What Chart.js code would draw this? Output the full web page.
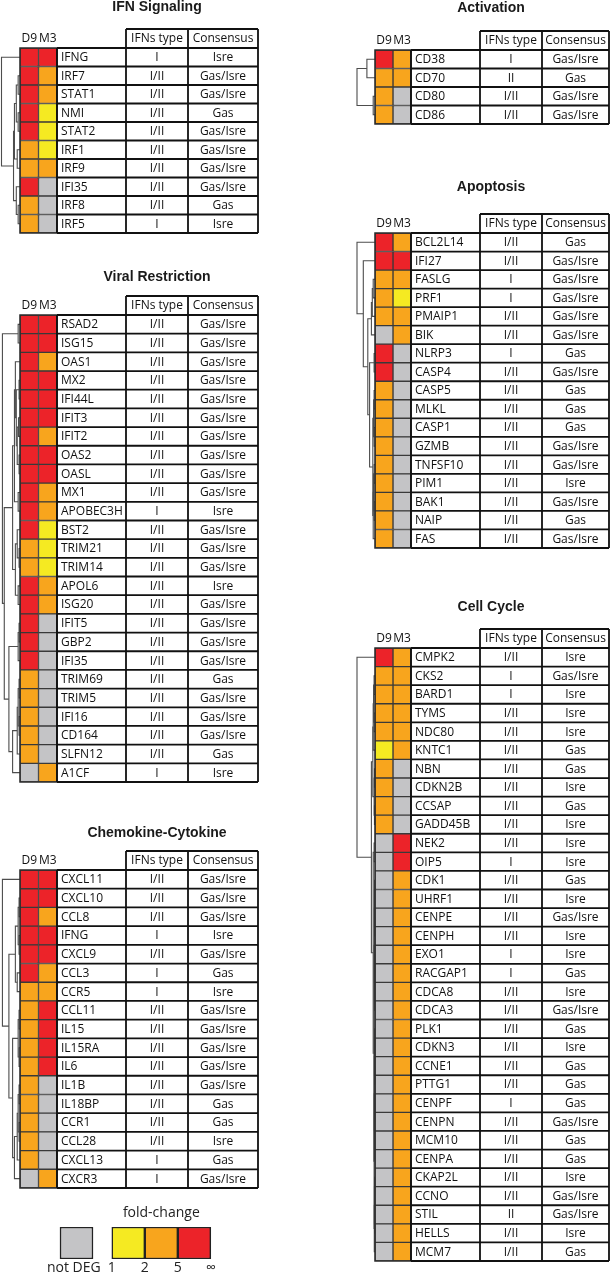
<!DOCTYPE html>
<html>
<head>
<meta charset="utf-8">
<script src="https://cdn.jsdelivr.net/npm/chart.js@4.4.1/dist/chart.umd.min.js"></script>
<style>
  html, body { margin: 0; padding: 0; background: #fff; }
  #page { position: relative; width: 612px; height: 1274px; overflow: hidden; }
  #page canvas { position: absolute; }
</style>
</head>
<body>
<div id="page"></div>
<script>
// fold-change level per cell: 0 = not DEG, 1 = 1-2, 2 = 2-5, 3 = >5
const levelColors = ['#C4C4C6', '#F5EA22', '#F8A51D', '#EC2329'];
const sampleCols = ['D9', 'M3'];
const tableHeads = ['IFNs type', 'Consensus'];

// IFN Signaling
const ifnGenes = ['IFNG', 'IRF7', 'STAT1', 'NMI', 'STAT2', 'IRF1', 'IRF9', 'IFI35', 'IRF8', 'IRF5'];
const ifnD9 = [3, 3, 3, 3, 3, 2, 2, 3, 2, 2];
const ifnM3 = [3, 2, 2, 1, 1, 1, 2, 0, 0, 0];
const ifnType = ['I', 'I/II', 'I/II', 'I/II', 'I/II', 'I/II', 'I/II', 'I/II', 'I/II', 'I'];
const ifnCons = ['Isre', 'Gas/Isre', 'Gas/Isre', 'Gas', 'Gas/Isre', 'Gas/Isre', 'Gas/Isre', 'Gas/Isre', 'Gas', 'Isre'];
// merges: [nodeA, nodeB, height]; new node ids continue after the leaves
const ifnTree = [[1, 2, 0.1], [3, 4, 0.1], [10, 11, 0.2], [5, 6, 0.15], [12, 13, 0.3], [8, 9, 0.1], [7, 15, 0.2], [14, 16, 0.35], [0, 17, 1.0]];

// Viral Restriction
const virGenes = ['RSAD2', 'ISG15', 'OAS1', 'MX2', 'IFI44L', 'IFIT3', 'IFIT2', 'OAS2', 'OASL', 'MX1', 'APOBEC3H', 'BST2', 'TRIM21',
  'TRIM14', 'APOL6', 'ISG20', 'IFIT5', 'GBP2', 'IFI35', 'TRIM69', 'TRIM5', 'IFI16', 'CD164', 'SLFN12', 'A1CF'];
const virD9 = [3, 3, 3, 3, 3, 3, 3, 3, 3, 3, 3, 3, 2, 2, 3, 3, 3, 3, 3, 2, 2, 2, 2, 2, 0];
const virM3 = [3, 3, 2, 3, 3, 3, 2, 3, 3, 2, 2, 1, 1, 1, 2, 2, 0, 0, 0, 0, 0, 0, 0, 0, 2];
const virType = ['I/II', 'I/II', 'I/II', 'I/II', 'I/II', 'I/II', 'I/II', 'I/II', 'I/II', 'I/II', 'I', 'I/II', 'I/II',
  'I/II', 'I/II', 'I/II', 'I/II', 'I/II', 'I/II', 'I/II', 'I/II', 'I/II', 'I/II', 'I/II', 'I'];
const virCons = ['Gas/Isre', 'Gas/Isre', 'Gas/Isre', 'Gas/Isre', 'Gas/Isre', 'Gas/Isre', 'Gas/Isre', 'Gas/Isre', 'Gas/Isre', 'Gas/Isre',
  'Isre', 'Gas/Isre', 'Gas/Isre', 'Gas/Isre', 'Isre', 'Gas/Isre', 'Gas/Isre', 'Gas/Isre', 'Gas/Isre', 'Gas', 'Gas/Isre',
  'Gas/Isre', 'Gas/Isre', 'Gas', 'Isre'];
const virTree = [[0, 1, 0.1], [3, 4, 0.05], [5, 6, 0.08], [7, 8, 0.05], [27, 28, 0.15], [26, 29, 0.2], [2, 30, 0.25],
  [9, 10, 0.1], [31, 32, 0.3], [12, 13, 0.05], [11, 34, 0.15], [14, 15, 0.1], [35, 36, 0.25], [33, 37, 0.4],
  [16, 17, 0.05], [39, 18, 0.1], [19, 20, 0.05], [21, 22, 0.05], [41, 42, 0.1], [43, 23, 0.15], [44, 24, 0.4],
  [40, 45, 0.6], [38, 46, 0.85], [25, 47, 0.95]];

// Chemokine-Cytokine
const chemGenes = ['CXCL11', 'CXCL10', 'CCL8', 'IFNG', 'CXCL9', 'CCL3', 'CCR5', 'CCL11', 'IL15', 'IL15RA', 'IL6', 'IL1B',
  'IL18BP', 'CCR1', 'CCL28', 'CXCL13', 'CXCR3'];
const chemD9 = [3, 3, 3, 3, 3, 3, 2, 2, 2, 2, 2, 2, 2, 2, 2, 2, 0];
const chemM3 = [3, 3, 2, 3, 3, 2, 2, 3, 3, 3, 3, 0, 0, 0, 0, 0, 2];
const chemType = ['I/II', 'I/II', 'I/II', 'I', 'I/II', 'I', 'I', 'I/II', 'I/II', 'I/II', 'I/II', 'I/II', 'I/II', 'I/II', 'I/II', 'I', 'I'];
const chemCons = ['Gas/Isre', 'Gas/Isre', 'Gas/Isre', 'Isre', 'Gas/Isre', 'Gas', 'Isre', 'Gas/Isre', 'Gas/Isre', 'Gas/Isre',
  'Gas/Isre', 'Gas/Isre', 'Gas', 'Gas', 'Isre', 'Gas', 'Gas/Isre'];
const chemTree = [[1, 2, 0.05], [3, 4, 0.05], [17, 18, 0.1], [5, 6, 0.15], [19, 20, 0.25], [7, 8, 0.05], [9, 10, 0.05],
  [22, 23, 0.1], [11, 12, 0.05], [13, 14, 0.05], [25, 26, 0.1], [27, 15, 0.15], [28, 16, 0.3], [24, 29, 0.4],
  [21, 30, 0.6], [0, 31, 0.95]];

// Activation
const actGenes = ['CD38', 'CD70', 'CD80', 'CD86'];
const actD9 = [3, 2, 2, 2];
const actM3 = [2, 2, 0, 0];
const actType = ['I', 'II', 'I/II', 'I/II'];
const actCons = ['Gas/Isre', 'Gas', 'Gas/Isre', 'Gas/Isre'];
const actTree = [[0, 1, 0.45], [2, 3, 0.1], [4, 5, 1.0]];

// Apoptosis
const apoGenes = ['BCL2L14', 'IFI27', 'FASLG', 'PRF1', 'PMAIP1', 'BIK', 'NLRP3', 'CASP4', 'CASP5', 'MLKL', 'CASP1', 'GZMB',
  'TNFSF10', 'PIM1', 'BAK1', 'NAIP', 'FAS'];
const apoD9 = [3, 3, 2, 2, 2, 0, 3, 3, 2, 2, 2, 2, 2, 2, 2, 2, 2];
const apoM3 = [2, 3, 2, 1, 2, 2, 0, 0, 0, 0, 0, 0, 0, 0, 0, 0, 0];
const apoType = ['I/II', 'I/II', 'I', 'I', 'I/II', 'I/II', 'I', 'I/II', 'I/II', 'I/II', 'I/II', 'I/II', 'I/II', 'I/II', 'I/II', 'I/II', 'I/II'];
const apoCons = ['Gas', 'Gas/Isre', 'Gas/Isre', 'Gas/Isre', 'Gas/Isre', 'Gas/Isre', 'Gas', 'Gas/Isre', 'Gas', 'Gas', 'Gas',
  'Gas/Isre', 'Gas/Isre', 'Isre', 'Gas/Isre', 'Gas', 'Gas/Isre'];
const apoTree = [[2, 3, 0.1], [17, 4, 0.15], [18, 5, 0.2], [6, 7, 0.05], [8, 9, 0.05], [10, 11, 0.05], [21, 22, 0.08],
  [12, 13, 0.05], [14, 15, 0.05], [24, 25, 0.08], [26, 16, 0.1], [23, 27, 0.12], [20, 28, 0.3], [19, 29, 0.4],
  [1, 30, 0.65], [0, 31, 1.0]];

// Cell Cycle
const ccGenes = ['CMPK2', 'CKS2', 'BARD1', 'TYMS', 'NDC80', 'KNTC1', 'NBN', 'CDKN2B', 'CCSAP', 'GADD45B', 'NEK2', 'OIP5',
  'CDK1', 'UHRF1', 'CENPE', 'CENPH', 'EXO1', 'RACGAP1', 'CDCA8', 'CDCA3', 'PLK1', 'CDKN3', 'CCNE1', 'PTTG1', 'CENPF',
  'CENPN', 'MCM10', 'CENPA', 'CKAP2L', 'CCNO', 'STIL', 'HELLS', 'MCM7'];
const ccD9 = [3, 2, 2, 2, 2, 1, 2, 2, 2, 2, 0, 0, 0, 0, 0, 0, 0, 0, 0, 0, 0, 0, 0, 0, 0, 0, 0, 0, 0, 0, 0, 0, 0];
const ccM3 = [2, 2, 2, 2, 2, 2, 0, 0, 0, 0, 3, 3, 2, 2, 2, 2, 2, 2, 2, 2, 2, 2, 2, 2, 2, 2, 2, 2, 2, 2, 2, 2, 2];
const ccType = ['I/II', 'I', 'I', 'I/II', 'I/II', 'I/II', 'I/II', 'I/II', 'I/II', 'I/II', 'I/II', 'I', 'I/II', 'I/II',
  'I/II', 'I/II', 'I', 'I', 'I/II', 'I/II', 'I/II', 'I/II', 'I/II', 'I/II', 'I', 'I/II', 'I/II', 'I/II', 'I/II',
  'I/II', 'II', 'I/II', 'I/II'];
const ccCons = ['Isre', 'Gas/Isre', 'Isre', 'Isre', 'Isre', 'Gas', 'Gas', 'Isre', 'Gas', 'Isre', 'Isre', 'Isre', 'Gas',
  'Isre', 'Gas/Isre', 'Isre', 'Isre', 'Gas', 'Isre', 'Gas/Isre', 'Gas', 'Isre', 'Gas', 'Gas', 'Gas', 'Gas/Isre', 'Gas',
  'Gas', 'Isre', 'Gas/Isre', 'Gas/Isre', 'Isre', 'Gas'];
const ccTree = [[1, 2, 0.05], [3, 4, 0.05], [33, 34, 0.08], [35, 5, 0.1], [6, 7, 0.03], [8, 9, 0.03], [37, 38, 0.05],
  [36, 39, 0.12], [10, 11, 0.05], [12, 13, 0.02], [14, 15, 0.02], [42, 43, 0.03], [16, 17, 0.02], [18, 19, 0.02],
  [45, 46, 0.03], [44, 47, 0.04], [20, 21, 0.02], [22, 23, 0.02], [49, 50, 0.03], [24, 25, 0.02], [26, 27, 0.02],
  [52, 53, 0.03], [51, 54, 0.04], [28, 29, 0.02], [30, 31, 0.02], [56, 57, 0.03], [58, 32, 0.04], [55, 59, 0.05],
  [48, 60, 0.06], [41, 61, 0.1], [40, 62, 0.2], [0, 63, 1.0]];

// legend
const legendColors = ['#C4C4C6', '#F5EA22', '#F8A51D', '#EC2329'];
const legendRanges = [[0, 1], [1.57, 2.57], [2.57, 3.57], [3.57, 4.57]];
const legendTickPos = [0.42, 1.57, 2.57, 3.57, 4.57];
const legendTickLabels = ['not DEG', '1', '2', '5', '\u221E'];

// page layout (pixels)
const colLayout = [
  { left: 0, width: 300, heatLeft: 20, heatRight: 57, titleX: 157, colW: [69, 62, 70] },
  { left: 300, width: 312, heatLeft: 375, heatRight: 411, titleX: 491, colW: [69, 62, 67] }
];
const panels = [
  { title: 'IFN Signaling', genes: ifnGenes, d9: ifnD9, m3: ifnM3, type: ifnType, cons: ifnCons, tree: ifnTree, col: 0, heatTop: 48, heatBottom: 233, titleY: 7 },
  { title: 'Viral Restriction', genes: virGenes, d9: virD9, m3: virM3, type: virType, cons: virCons, tree: virTree, col: 0, heatTop: 315, heatBottom: 782, titleY: 277 },
  { title: 'Chemokine-Cytokine', genes: chemGenes, d9: chemD9, m3: chemM3, type: chemType, cons: chemCons, tree: chemTree, col: 0, heatTop: 870, heatBottom: 1188, titleY: 833 },
  { title: 'Activation', genes: actGenes, d9: actD9, m3: actM3, type: actType, cons: actCons, tree: actTree, col: 1, heatTop: 50, heatBottom: 124, titleY: 8 },
  { title: 'Apoptosis', genes: apoGenes, d9: apoD9, m3: apoM3, type: apoType, cons: apoCons, tree: apoTree, col: 1, heatTop: 233, heatBottom: 548, titleY: 187 },
  { title: 'Cell Cycle', genes: ccGenes, d9: ccD9, m3: ccM3, type: ccType, cons: ccCons, tree: ccTree, col: 1, heatTop: 648, heatBottom: 1261, titleY: 607 }
];

const DENDRO = 1.08; // dendrogram room, in heat-cell units
const textFont = '12px "Open Sans", "Noto Sans", sans-serif';
const page = document.getElementById('page');

Chart.defaults.font.family = '"Open Sans", "Noto Sans", sans-serif';

// draws dendrogram, header, gene table and title around the heatmap
const geneTable = {
  id: 'geneTable',
  afterDatasetsDraw(chart, args, opts) {
    const p = opts.panel, c = colLayout[p.col];
    const ctx = chart.ctx, xs = chart.scales.x, ys = chart.scales.y, area = chart.chartArea;
    const n = p.genes.length;
    const top = area.top, bottom = area.bottom, pitch = (bottom - top) / n;
    const heatL = xs.getPixelForValue(0), x0 = xs.getPixelForValue(2);
    const x1 = x0 + c.colW[0], x2 = x1 + c.colW[1], x3 = x2 + c.colW[2];
    const headTop = top - 19;
    ctx.save();

    // dendrogram
    const nodeY = [], nodeH = [];
    for (let i = 0; i < n; i++) { nodeY.push(ys.getPixelForValue(i)); nodeH.push(0); }
    ctx.strokeStyle = '#4d4d4d';
    ctx.lineWidth = 1.1;
    p.tree.forEach(([a, b, h]) => {
      const xa = xs.getPixelForValue(-nodeH[a]), xb = xs.getPixelForValue(-nodeH[b]);
      const xn = xs.getPixelForValue(-h);
      ctx.beginPath();
      ctx.moveTo(xa, nodeY[a]);
      ctx.lineTo(xn, nodeY[a]);
      ctx.lineTo(xn, nodeY[b]);
      ctx.lineTo(xb, nodeY[b]);
      ctx.stroke();
      nodeY.push((nodeY[a] + nodeY[b]) / 2);
      nodeH.push(h);
    });

    // heatmap outline
    ctx.strokeStyle = '#2b2b2b';
    ctx.lineWidth = 1.5;
    ctx.strokeRect(heatL, top, x0 - heatL, bottom - top);

    // table grid
    ctx.strokeStyle = '#111';
    ctx.lineWidth = 1.8;
    ctx.beginPath();
    for (let i = 0; i <= n; i++) {
      const y = top + i * pitch;
      ctx.moveTo(x0, y); ctx.lineTo(x3, y);
    }
    ctx.moveTo(x1, headTop); ctx.lineTo(x3, headTop);
    ctx.moveTo(x0, top); ctx.lineTo(x0, bottom);
    [x1, x2, x3].forEach(x => { ctx.moveTo(x, headTop); ctx.lineTo(x, bottom); });
    ctx.stroke();

    // texts
    ctx.fillStyle = '#111';
    ctx.font = textFont;
    ctx.textBaseline = 'middle';
    ctx.textAlign = 'center';
    sampleCols.forEach((s, k) => ctx.fillText(s, xs.getPixelForValue(k + 0.5), top - 9));
    ctx.fillText(tableHeads[0], (x1 + x2) / 2, (headTop + top) / 2);
    ctx.fillText(tableHeads[1], (x2 + x3) / 2, (headTop + top) / 2);
    p.genes.forEach((g, i) => {
      const y = ys.getPixelForValue(i) + 0.5;
      ctx.textAlign = 'left';
      ctx.fillText(g, x0 + 4, y);
      ctx.textAlign = 'center';
      ctx.fillText(p.type[i], (x1 + x2) / 2, y);
      ctx.fillText(p.cons[i], (x2 + x3) / 2, y);
    });

    // title
    ctx.font = 'bold 14px "Liberation Sans", Arial, sans-serif';
    ctx.fillStyle = '#1a1a1a';
    ctx.fillText(p.title, c.titleX - c.left, p.titleY - opts.canvasTop);
    ctx.restore();
  }
};

function makeCanvas(left, top, width, height) {
  const cv = document.createElement('canvas');
  cv.width = width; cv.height = height;
  cv.style.left = left + 'px'; cv.style.top = top + 'px';
  cv.style.width = width + 'px'; cv.style.height = height + 'px';
  page.appendChild(cv);
  return cv;
}

panels.forEach(p => {
  const c = colLayout[p.col];
  const canvasTop = Math.min(p.heatTop - 50, p.titleY - 12);
  const height = p.heatBottom + 6 - canvasTop;
  const cv = makeCanvas(c.left, canvasTop, c.width, height);
  const heatW = c.heatRight - c.heatLeft;
  new Chart(cv, {
    type: 'bar',
    data: {
      labels: p.genes,
      datasets: [
        { label: sampleCols[0], data: p.genes.map(() => 1), backgroundColor: p.d9.map(v => levelColors[v]) },
        { label: sampleCols[1], data: p.genes.map(() => 1), backgroundColor: p.m3.map(v => levelColors[v]) }
      ]
    },
    options: {
      indexAxis: 'y',
      responsive: false,
      animation: false,
      devicePixelRatio: 1,
      layout: {
        padding: {
          top: p.heatTop - canvasTop,
          bottom: height - (p.heatBottom - canvasTop),
          left: c.heatLeft - c.left - heatW / 2 * DENDRO,
          right: c.left + c.width - c.heatRight
        }
      },
      datasets: {
        bar: { categoryPercentage: 1, barPercentage: 1, borderColor: '#3a3a3a', borderWidth: 1, borderSkipped: false }
      },
      scales: {
        x: { stacked: true, min: -DENDRO, max: 2, display: false },
        y: { stacked: true, display: false }
      },
      plugins: {
        legend: { display: false },
        tooltip: { enabled: false },
        geneTable: { panel: p, canvasTop: canvasTop }
      }
    },
    plugins: [geneTable]
  });
});

// fold-change legend
const legendTop = 1195;
const legendCv = makeCanvas(0, legendTop, 300, 1274 - legendTop);
const unit = 33;
new Chart(legendCv, {
  type: 'bar',
  data: {
    labels: ['fold-change'],
    datasets: legendColors.map((col, i) => ({
      data: [legendRanges[i]],
      backgroundColor: col,
      borderColor: '#222',
      borderWidth: 1.5,
      borderSkipped: false,
      grouped: false
    }))
  },
  options: {
    indexAxis: 'y',
    responsive: false,
    animation: false,
    devicePixelRatio: 1,
    layout: { padding: { top: 32, bottom: 15, left: 0, right: 0 } },
    datasets: { bar: { categoryPercentage: 1, barPercentage: 1 } },
    scales: {
      x: { min: -60 / unit, max: (300 - 60) / unit, display: false },
      y: { display: false }
    },
    plugins: { legend: { display: false }, tooltip: { enabled: false } }
  },
  plugins: [{
    id: 'legendText',
    afterDatasetsDraw(chart) {
      const ctx = chart.ctx, xs = chart.scales.x, area = chart.chartArea;
      ctx.save();
      ctx.fillStyle = '#222';
      ctx.font = '14px "Open Sans", "Noto Sans", sans-serif';
      ctx.textAlign = 'center';
      ctx.textBaseline = 'middle';
      ctx.fillText('fold-change', (xs.getPixelForValue(legendRanges[1][0]) + xs.getPixelForValue(legendRanges[3][1])) / 2, area.top - 14);
      legendTickPos.forEach((v, i) => ctx.fillText(legendTickLabels[i], xs.getPixelForValue(v), area.bottom + 9));
      ctx.restore();
    }
  }]
});
</script>
</body>
</html>
